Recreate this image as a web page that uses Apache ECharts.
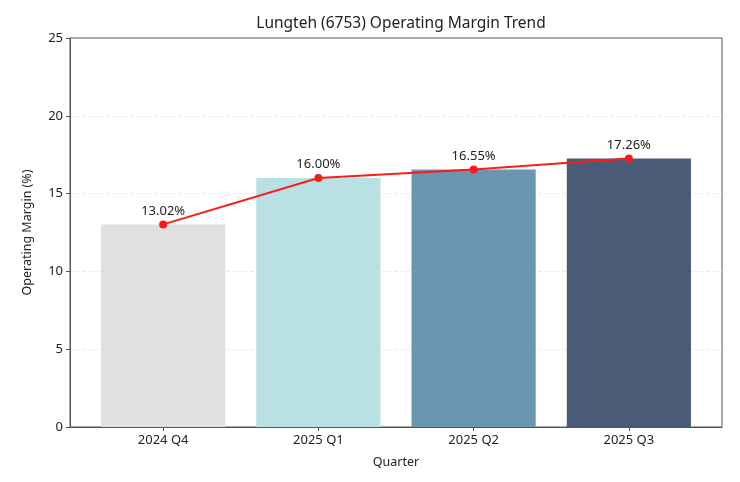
<!DOCTYPE html>
<html><head><meta charset="utf-8">
<script src="https://cdn.jsdelivr.net/npm/echarts@6/dist/echarts.min.js"></script>
<style>html,body{margin:0;padding:0;background:#fff}#c{width:740px;height:482px}</style>
</head><body><div id="c"></div>
<script>
const categories = ['2024 Q4', '2025 Q1', '2025 Q2', '2025 Q3'];
const margins = [13.02, 16.00, 16.55, 17.26];
const barColors = ['#e0e0e0', '#b9e0e2', '#6a96b0', '#4a5b78'];
const yTicks = [0, 5, 10, 15, 20, 25];

const FONT = 'Noto Sans';
const gridLeft = 70, gridRight = 18, gridTop = 38, gridBottom = 55;
const plotW = 740 - gridLeft - gridRight;
const xMin = -0.6, xMax = categories.length - 1 + 0.6;
const barW = 0.8 * plotW / (xMax - xMin);

const chart = echarts.init(document.getElementById('c'));
chart.setOption({
  animation: false,
  textStyle: { fontFamily: FONT },
  title: {
    text: 'Lungteh (6753) Operating Margin Trend',
    left: gridLeft + plotW / 2, top: 11, textAlign: 'center',
    textStyle: { fontFamily: FONT, fontSize: 15.5, fontWeight: 'normal', color: '#222' }
  },
  grid: { left: gridLeft, right: gridRight, top: gridTop, bottom: gridBottom,
          show: true, borderColor: '#555', borderWidth: 1, backgroundColor: 'transparent' },
  xAxis: {
    type: 'value', min: xMin, max: xMax,
    name: 'Quarter', nameLocation: 'middle', nameGap: 29,
    nameTextStyle: { fontFamily: FONT, fontSize: 12.5, color: '#222' },
    axisLine: { show: true, onZero: false, lineStyle: { color: '#555' } },
    axisTick: { show: true, customValues: categories.map((c, i) => i), length: 4, lineStyle: { color: '#555' } },
    axisLabel: { customValues: categories.map((c, i) => i), formatter: v => categories[Math.round(v)],
                 fontFamily: FONT, fontSize: 13, color: '#222', margin: 7 },
    splitLine: { show: false }
  },
  yAxis: {
    type: 'value', min: 0, max: 25, interval: 5,
    name: 'Operating Margin (%)', nameLocation: 'middle', nameGap: 36,
    nameTextStyle: { fontFamily: FONT, fontSize: 12.5, color: '#222' },
    axisLine: { show: true, onZero: false, lineStyle: { color: '#555' } },
    axisTick: { show: true, length: 4, lineStyle: { color: '#555' } },
    axisLabel: { fontFamily: FONT, fontSize: 13, color: '#222', margin: 7,
                 formatter: v => yTicks.includes(v) ? String(v) : '' },
    splitLine: { show: true, showMinLine: false, showMaxLine: false,
                 lineStyle: { color: '#ececec', type: 'dashed', width: 1 } }
  },
  series: [
    {
      type: 'bar', barWidth: barW, barGap: '-100%',
      data: margins.map((v, i) => ({ value: [i, v], itemStyle: { color: barColors[i] } })),
      z: 2
    },
    {
      type: 'line',
      data: margins.map((v, i) => [i, v]),
      lineStyle: { color: '#ff1a1a', width: 2 },
      itemStyle: { color: '#ff1a1a' },
      symbol: 'circle', symbolSize: 8, showAllSymbol: true,
      label: { show: true, position: 'top', distance: 3, formatter: p => p.value[1].toFixed(2) + '%',
               fontFamily: FONT, fontSize: 13, color: '#222' },
      z: 5
    }
  ]
});
</script></body></html>
